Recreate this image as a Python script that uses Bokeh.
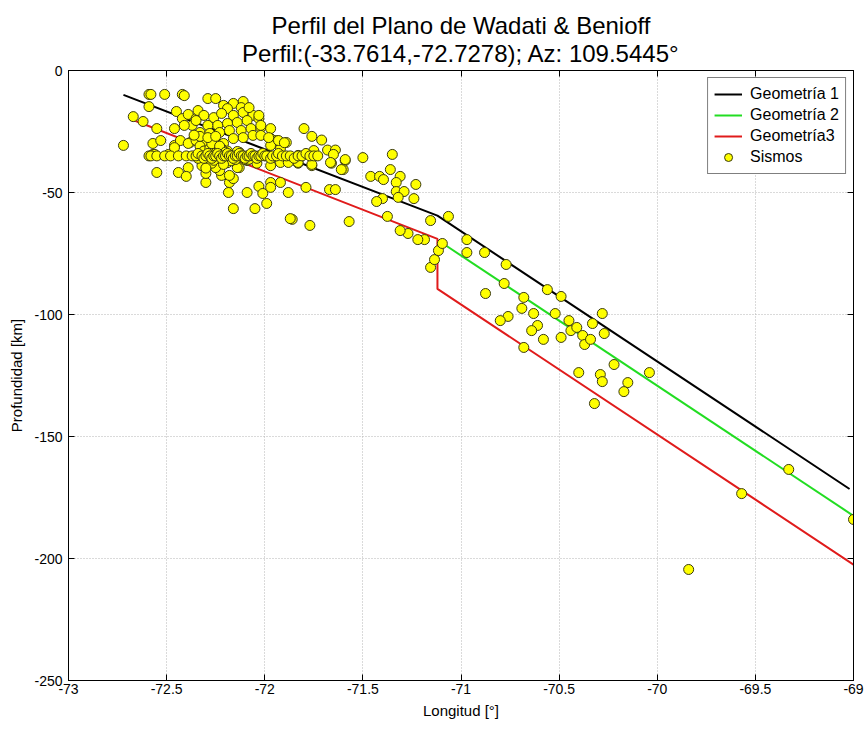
from bokeh.plotting import figure
from bokeh.models import Range1d, FixedTicker, LinearAxis, Title, Legend, LegendItem
from bokeh.embed import file_html
from bokeh.resources import INLINE

# ---------------- data ----------------
title_line1 = "Perfil del Plano de Wadati & Benioff"
title_line2 = "Perfil:(-33.7614,-72.7278); Az: 109.5445°"

x_ticks = [-73, -72.5, -72, -71.5, -71, -70.5, -70, -69.5, -69]
x_tick_labels = ["-73", "-72.5", "-72", "-71.5", "-71", "-70.5", "-70", "-69.5", "-69"]
y_ticks = [-250, -200, -150, -100, -50, 0]
y_tick_labels = ["-250", "-200", "-150", "-100", "-50", "0"]

geom1_lon = [-72.72, -71.12, -69.02]
geom1_dep = [-10.0, -59.5, -171.5]
geom2_lon = [-71.10, -69.00]
geom2_dep = [-70.5, -182.5]
geom3_lon = [-72.68, -71.12, -71.12, -69.00]
geom3_dep = [-20.0, -69.0, -89.5, -202.5]

# earthquakes: sparse deep part
sis_lon_deep = [-71.155, -71.135, -71.115, -71.095, -71.064, -71.155, -71.186, -71.22, -71.27, -71.31,
                -71.375, -71.57, -70.97, -70.97, -70.88, -70.77, -70.78, -70.875, -70.68, -70.56,
                -70.49, -70.69, -70.63, -70.76, -70.80, -70.52, -70.45, -70.61, -70.64, -70.58,
                -70.49, -70.44, -70.41, -70.38, -70.37, -70.34, -70.33, -70.28, -70.27, -70.68,
                -70.22, -70.04, -70.40, -70.29, -70.28, -70.15, -70.17, -70.32, -69.33, -69.57,
                -69.00, -69.84]
sis_dep_deep = [-80.7, -77.5, -73.8, -70.9, -59.8, -61.5, -69.3, -69.3, -66.8, -65.6,
                -59.8, -61.9, -69.3, -74.6, -74.6, -79.5, -87.3, -91.4, -93.0, -89.8,
                -92.6, -97.5, -99.6, -100.8, -102.5, -99.6, -102.5, -104.5, -106.6, -110.2,
                -109.4, -106.6, -105.3, -108.6, -112.3, -110.2, -103.7, -99.6, -107.8, -113.5,
                -120.5, -123.8, -123.8, -124.6, -127.5, -127.9, -131.6, -136.5, -163.5, -173.4,
                -184.0, -204.5]

# earthquakes: middle part
sis_lon_mid = [-71.50, -71.35, -71.36, -71.46, -71.415, -71.395, -71.31, -71.33, -71.23, -71.33,
               -71.29, -71.32, -71.24, -71.40, -71.43, -71.59, -71.60, -71.83, -71.76, -71.66,
               -71.61, -71.79, -71.67, -71.64, -71.86, -71.77, -71.80, -71.76, -71.71, -71.68,
               -71.64, -71.65, -71.665, -71.76, -71.75, -71.83, -71.59]
sis_dep_mid = [-35.7, -34.4, -40.6, -43.4, -43.4, -44.7, -43.4, -45.9, -46.7, -49.6,
               -49.6, -52.0, -52.5, -52.5, -53.7, -36.9, -40.6, -38.0, -39.0, -38.0,
               -40.6, -47.9, -48.8, -48.8, -61.0, -63.5, -23.8, -27.0, -28.5, -32.6,
               -32.6, -34.4, -37.7, -38.5, -32.8, -34.8, -36.5]

# earthquakes: shallow cluster
sis_lon_clu = [-72.30, -72.185, -72.09, -72.03, -72.01, -71.97, -71.97, -71.92, -71.88, -71.99,
               -72.16, -72.05, -71.87, -72.13, -72.30, -72.18, -72.22, -72.16, -72.55, -72.44,
               -72.39, -72.40, -72.59, -72.58, -72.51, -72.42, -72.41, -72.59, -72.67, -72.62,
               -72.55, -72.46, -72.45, -72.42, -72.39, -72.72, -72.57, -72.53, -72.57, -72.56,
               -72.49, -72.46, -72.43, -72.38, -72.37, -72.41, -72.35, -72.29, -72.25, -72.11,
               -72.21, -72.16, -72.12, -72.19, -72.11, -72.34, -72.31, -72.35, -72.26, -72.22,
               -72.16, -72.06, -72.03, -72.09, -72.14, -72.19, -72.24, -72.29, -72.33, -72.28,
               -72.23, -72.18, -72.12, -72.07, -72.02, -71.97, -72.06, -72.02, -72.11, -72.16,
               -72.46, -72.39, -72.35, -72.30, -72.25, -72.21, -71.97, -71.94, -71.89, -71.97,
               -71.92, -72.23, -72.18, -72.14, -72.19, -72.29, -72.25, -72.09, -72.04, -71.97,
               -71.92, -71.88, -71.83, -72.08, -72.03, -72.02, -71.98, -71.93, -71.90, -72.33,
               -72.31, -72.29, -72.28, -72.27, -72.26, -72.32, -72.30, -72.24, -72.22, -72.34,
               -72.27, -72.21, -72.19, -72.17, -72.33, -72.29, -72.25, -72.23, -72.20, -72.15,
               -72.13, -72.10, -72.36, -72.28, -72.26, -72.21, -72.14, -72.08]
sis_dep_clu = [-45.9, -50.0, -50.0, -47.5, -50.4, -45.9, -47.9, -45.9, -50.0, -54.5,
               -56.6, -56.6, -60.7, -39.8, -42.2, -45.9, -43.0, -44.3, -41.8, -41.8,
               -39.8, -43.4, -9.8, -9.8, -9.8, -9.8, -10.3, -14.8, -18.9, -20.9,
               -23.8, -23.8, -16.8, -19.7, -18.0, -30.7, -29.9, -28.7, -34.4, -34.4,
               -34.4, -30.7, -28.7, -29.5, -22.5, -22.5, -19.7, -11.5, -11.5, -12.7,
               -14.3, -13.5, -15.2, -15.6, -17.2, -16.4, -18.4, -20.5, -19.3, -17.6,
               -18.4, -18.4, -19.7, -20.5, -21.3, -21.7, -22.5, -22.5, -25.4, -25.8,
               -25.4, -24.6, -24.6, -23.8, -23.4, -23.8, -26.6, -26.6, -27.5, -27.9,
               -31.6, -29.9, -28.7, -29.5, -29.5, -29.9, -27.9, -28.7, -29.5, -30.7,
               -32.0, -41.0, -43.0, -39.8, -37.8, -36.9, -39.8, -36.9, -38.0, -39.0,
               -37.7, -37.7, -37.7, -15.2, -18.4, -22.5, -27.5, -28.7, -29.6, -31.0,
               -33.0, -37.0, -32.0, -38.0, -34.0, -39.0, -40.0, -36.0, -32.0, -36.0,
               -30.0, -35.8, -33.0, -37.0, -27.0, -27.5, -27.0, -31.0, -33.5, -36.5,
               -33.5, -36.5, -26.5, -34.0, -36.8, -38.5, -33.2, -36.4]

# earthquakes: band of events at ~35 km depth
sis_lon_band = [-72.59, -72.58, -72.55, -72.51, -72.48, -72.44, -72.40, -72.37, -72.35, -72.34,
                -72.32, -72.31, -72.30, -72.29, -72.28, -72.27, -72.26, -72.25, -72.24, -72.23,
                -72.22, -72.21, -72.20, -72.19, -72.18, -72.17, -72.16, -72.15, -72.14, -72.13,
                -72.12, -72.11, -72.10, -72.09, -72.08, -72.07, -72.06, -72.05, -72.04, -72.03,
                -72.02, -72.01, -72.00, -71.99, -71.97, -71.96, -71.94, -71.93, -71.91, -71.89,
                -71.87, -71.85, -71.83, -71.81, -71.79, -71.77, -71.75, -71.73]
sis_dep_band = [-35.0, -35.0, -35.0, -35.0, -35.0, -35.0, -35.0, -35.0, -35.0, -34.0,
                -35.0, -36.0, -35.0, -34.0, -35.0, -36.0, -35.0, -35.0, -34.0, -35.0,
                -36.0, -35.0, -35.0, -34.0, -35.0, -35.0, -36.0, -35.0, -35.0, -34.0,
                -35.0, -35.0, -36.0, -35.0, -35.0, -34.0, -35.0, -35.0, -36.0, -35.0,
                -35.0, -34.0, -35.0, -35.0, -36.0, -35.0, -35.0, -34.0, -35.0, -35.0,
                -35.0, -36.0, -35.0, -35.0, -34.0, -35.0, -35.0, -35.0]

sis_lon = sis_lon_deep + sis_lon_mid + sis_lon_clu + sis_lon_band
sis_dep = sis_dep_deep + sis_dep_mid + sis_dep_clu + sis_dep_band

FONT = "Liberation Sans"

# ---------------- figure ----------------
p = figure(width=866, height=727, frame_width=785, frame_height=610,
           x_range=Range1d(-73, -69), y_range=Range1d(-250, 0),
           output_backend="svg", toolbar_location=None, title=None,
           min_border_left=68, min_border_right=13, min_border_bottom=47, min_border_top=70)
p.background_fill_color = "white"
p.border_fill_color = "white"
p.outline_line_color = "black"
p.outline_line_width = 1

# axes
for ax, ticks, labels in ((p.xaxis[0], x_ticks, x_tick_labels), (p.yaxis[0], y_ticks, y_tick_labels)):
    ax.ticker = FixedTicker(ticks=ticks)
    ax.major_label_overrides = {float(t): l for t, l in zip(ticks, labels)}
    ax.major_tick_in = 6
    ax.major_tick_out = 0
    ax.minor_tick_in = 0
    ax.minor_tick_out = 0
    ax.axis_line_color = "black"
    ax.major_tick_line_color = "black"
    ax.major_label_text_font = FONT
    ax.major_label_text_font_size = "14px"
    ax.major_label_text_color = "black"
    ax.axis_label_text_font = FONT
    ax.axis_label_text_font_size = "15px"
    ax.axis_label_text_font_style = "normal"
    ax.axis_label_text_color = "black"

p.xaxis.axis_label = "Longitud [°]"
p.yaxis.axis_label = "Profundidad [km]"
p.xaxis.major_label_standoff = 3
p.yaxis.major_label_standoff = 6
p.xaxis.axis_label_standoff = 5
p.yaxis.axis_label_standoff = 6

# mirror axes (ticks only) top and right
for loc, ticks in (("above", x_ticks), ("right", y_ticks)):
    ax2 = LinearAxis(ticker=FixedTicker(ticks=ticks), major_tick_in=6, major_tick_out=0,
                     minor_tick_in=0, minor_tick_out=0, major_label_text_font_size="1px",
                     major_label_text_color=None, major_label_standoff=0,
                     axis_line_color="black", major_tick_line_color="black")
    p.add_layout(ax2, loc)

# grids
for g, ticks in ((p.xgrid[0], x_ticks), (p.ygrid[0], y_ticks)):
    g.ticker = FixedTicker(ticks=ticks)
    g.grid_line_color = "#b4b4b4"
    g.grid_line_dash = "1 2"
    g.grid_line_width = 1

# two-line title, each line centred
title = Title(text=title_line1 + "\n" + title_line2, align="center", text_font=FONT,
              text_font_size="24px", text_font_style="normal", text_color="black",
              text_line_height=1.05, standoff=7)
if "text_align" in Title.properties():
    title.text_align = "center"
p.add_layout(title, "above")

# lines
r1 = p.line(geom1_lon, geom1_dep, line_color="black", line_width=2)
r2 = p.line(geom2_lon, geom2_dep, line_color="#22dd22", line_width=2)
r3 = p.line(geom3_lon, geom3_dep, line_color="#e01b1b", line_width=2)

# earthquakes
r4 = p.scatter(sis_lon, sis_dep, marker="circle", size=10, fill_color="#ffff00",
               line_color="#3a3a10", line_width=1)

legend = Legend(items=[LegendItem(label="Geometría 1", renderers=[r1]),
                       LegendItem(label="Geometría 2", renderers=[r2]),
                       LegendItem(label="Geometría3", renderers=[r3]),
                       LegendItem(label="Sismos", renderers=[r4])],
                location="top_right")
legend.label_text_font = FONT
legend.label_text_font_size = "16px"
legend.label_text_color = "black"
legend.border_line_color = "black"
legend.border_line_width = 1
legend.background_fill_color = "white"
legend.background_fill_alpha = 1
legend.padding = 6
legend.spacing = 1
legend.margin = 7
legend.glyph_width = 28
legend.glyph_height = 20
legend.label_height = 20
legend.label_standoff = 8
p.add_layout(legend, "center")

open("out.html", "w").write(file_html(p, INLINE))
